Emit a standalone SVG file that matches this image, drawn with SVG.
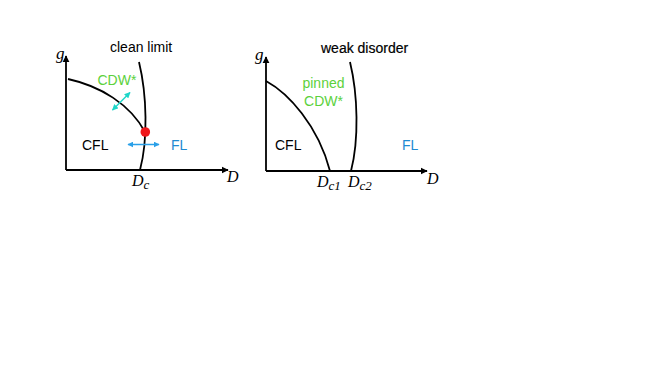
<svg xmlns="http://www.w3.org/2000/svg" width="664" height="374" viewBox="0 0 664 374">
<defs>
<style>
.ax{stroke:#000;stroke-width:1.8;fill:none}
.cv{stroke:#000;stroke-width:1.8;fill:none}
.lb{font-family:"Liberation Sans",Arial,sans-serif;font-size:14px;fill:#000}
.gr{fill:#5cd13c}
.bl{fill:#1f8ad2}
.m{font-family:"Liberation Serif","Times New Roman",serif;font-style:italic;font-size:16px;fill:#000}
.g{font-size:17px}
.sub{font-size:13px}
</style>
<marker id="ah" viewBox="0 0 10 10" refX="9" refY="5" markerWidth="4" markerHeight="4" orient="auto" markerUnits="strokeWidth">
<path d="M0,0 L10,5 L0,10 z" fill="#000"/>
</marker>
<marker id="cy" viewBox="0 0 10 10" refX="9" refY="5" markerWidth="4" markerHeight="4" orient="auto-start-reverse" markerUnits="strokeWidth">
<path d="M0,0 L10,5 L0,10 z" fill="#1ed6c8"/>
</marker>
<marker id="bu" viewBox="0 0 10 10" refX="9" refY="5" markerWidth="4" markerHeight="4" orient="auto-start-reverse" markerUnits="strokeWidth">
<path d="M0,0 L10,5 L0,10 z" fill="#2aa0e8"/>
</marker>
</defs>

<g id="connectors">
<line class="ax" x1="66" y1="170" x2="66" y2="56" marker-end="url(#ah)"/>
<line class="ax" x1="66" y1="170" x2="228" y2="170" marker-end="url(#ah)"/>
<path class="cv" d="M68,79 C100,86 130,104 145,132"/>
<path class="cv" d="M139,62 C147,95 148,140 140,170"/>
<line x1="112.5" y1="110" x2="130" y2="92.5" stroke="#1ed6c8" stroke-width="1.5" marker-start="url(#cy)" marker-end="url(#cy)"/>
<line x1="128" y1="144.5" x2="159" y2="144.5" stroke="#2aa0e8" stroke-width="1.5" marker-start="url(#bu)" marker-end="url(#bu)"/>

<line class="ax" x1="266" y1="171" x2="266" y2="57" marker-end="url(#ah)"/>
<line class="ax" x1="266" y1="171" x2="427" y2="171" marker-end="url(#ah)"/>
<path class="cv" d="M266,81 C288,93 318,125 330,171"/>
<path class="cv" d="M350,62 C358,95 359,140 351,171"/>
</g>

<g id="left-panel">
<text class="m g" x="56" y="59">g</text>
<text class="m" x="227" y="182">D</text>
<text class="lb" x="110" y="52">clean limit</text>
<text class="lb gr" x="97.5" y="85">CDW*</text>
<text class="lb" x="82" y="150">CFL</text>
<text class="lb bl" x="171" y="150">FL</text>
<circle id="critical-point" cx="145.3" cy="132" r="4.8" fill="#f0161a"/>
<text class="m" x="132" y="186">D<tspan class="sub" dy="3">c</tspan></text>
</g>

<g id="right-panel">
<text class="m g" x="255" y="60">g</text>
<text class="m" x="427" y="184">D</text>
<text class="lb" x="321" y="53" stroke="#000" stroke-width="0.2">weak disorder</text>
<text class="lb gr" x="323.5" y="88" text-anchor="middle">pinned</text>
<text class="lb gr" x="323.5" y="106" text-anchor="middle">CDW*</text>
<text class="lb" x="275" y="150">CFL</text>
<text class="lb bl" x="402" y="150">FL</text>
<text class="m" x="317" y="187">D<tspan class="sub" dy="3">c1</tspan></text>
<text class="m" x="348" y="187">D<tspan class="sub" dy="3">c2</tspan></text>
</g>
</svg>
